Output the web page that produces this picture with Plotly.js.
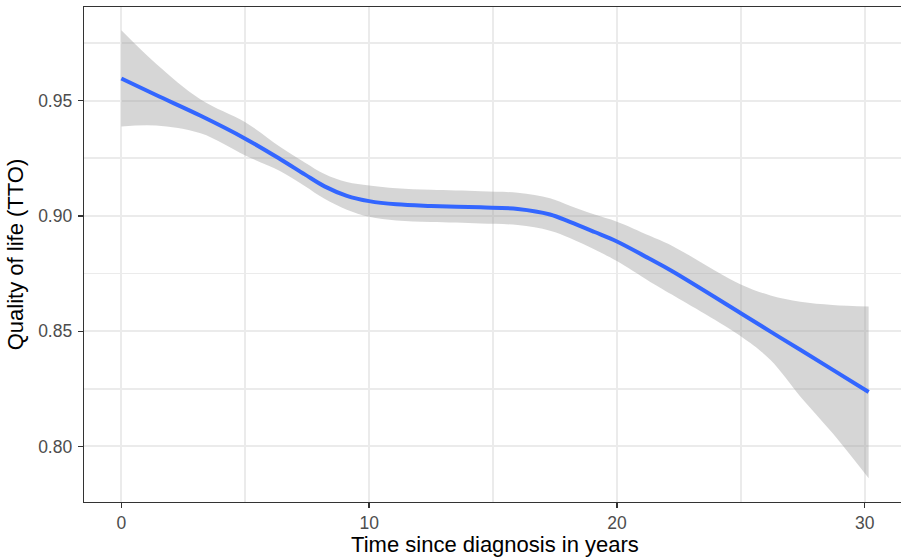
<!DOCTYPE html>
<html>
<head>
<meta charset="utf-8">
<script src="https://cdn.plot.ly/plotly-3.0.1.min.js"></script>
<style>
html, body { margin: 0; padding: 0; overflow: hidden; background: #ffffff; }
#chart { width: 920px; height: 557px; }
</style>
</head>
<body>
<div id="chart"></div>
<script>
// Values
const years    = [0, 1.4, 3.2, 5.0, 6.4, 7.4, 8.2, 9.1, 10, 11.1, 12.5, 14.5, 16.0, 17.3, 18.1, 19.1, 20, 21.3, 22.2, 25, 26.2, 27.4, 28.7, 30.16];
const fitTTO   = [0.9596, 0.9524, 0.9434, 0.9335, 0.9247, 0.9180, 0.9128, 0.9087, 0.9064, 0.9050, 0.9043, 0.9037, 0.9030, 0.9006, 0.8974, 0.8930, 0.8889, 0.8815, 0.8762, 0.8578, 0.8498, 0.8419, 0.8333, 0.8236];
const upperTTO = [0.9805, 0.9660, 0.9505, 0.9406, 0.9300, 0.9232, 0.9182, 0.9147, 0.9132, 0.9120, 0.9113, 0.9107, 0.9100, 0.9076, 0.9044, 0.9006, 0.8975, 0.8915, 0.8872, 0.8702, 0.8655, 0.8628, 0.8614, 0.8607];
const lowerTTO = [0.9388, 0.9392, 0.9358, 0.9262, 0.9195, 0.9130, 0.9074, 0.9027, 0.8996, 0.8980, 0.8973, 0.8967, 0.8960, 0.8936, 0.8904, 0.8854, 0.8804, 0.8717, 0.8660, 0.8478, 0.8375, 0.8217, 0.8058, 0.7862];

const xTicks = [0, 10, 20, 30];
const yTicks = [0.80, 0.85, 0.90, 0.95];
const yTickLabels = ["0.80", "0.85", "0.90", "0.95"];

const xTitle = "Time since diagnosis in years";
const yTitle = "Quality of life (TTO)";

const traces = [
  {
    x: years, y: upperTTO, type: "scatter", mode: "lines",
    line: { width: 0, shape: "spline", smoothing: 1 },
    hoverinfo: "skip", showlegend: false
  },
  {
    x: years, y: lowerTTO, type: "scatter", mode: "lines",
    line: { width: 0, shape: "spline", smoothing: 1 },
    fill: "tonexty", fillcolor: "rgba(153,153,153,0.4)",
    hoverinfo: "skip", showlegend: false
  },
  {
    x: years, y: fitTTO, type: "scatter", mode: "lines",
    line: { color: "#3366FF", width: 4, shape: "spline", smoothing: 1 },
    showlegend: false
  }
];

const axisCommon = {
  showline: true, mirror: true, linecolor: "#333333", linewidth: 1.3,
  ticks: "outside", ticklen: 5, tickwidth: 1.3, tickcolor: "#333333",
  gridcolor: "#EBEBEB", gridwidth: 2, zeroline: false,
  tickfont: { family: "Liberation Sans, Arial, sans-serif", size: 17.5, color: "#4D4D4D" }
};

const layout = {
  width: 920, height: 557,
  margin: { l: 84, r: 14, t: 7, b: 55 },
  paper_bgcolor: "#ffffff", plot_bgcolor: "#ffffff",
  font: { family: "Liberation Sans, Arial, sans-serif" },
  showlegend: false,
  xaxis: Object.assign({}, axisCommon, {
    range: [-1.508, 31.668],
    tickvals: xTicks,
    ticklabelstandoff: 0,
    minor: { dtick: 5, tick0: 0, showgrid: true, gridcolor: "#EBEBEB", gridwidth: 1.6, ticks: "" },
    title: { text: xTitle, font: { size: 22, color: "#000000" }, standoff: 2 }
  }),
  yaxis: Object.assign({}, axisCommon, {
    range: [0.7759, 0.9906],
    tickvals: yTicks, ticktext: yTickLabels,
    ticklabelstandoff: 2,
    minor: { dtick: 0.025, tick0: 0.775, showgrid: true, gridcolor: "#EBEBEB", gridwidth: 1.6, ticks: "" },
    title: { text: yTitle, font: { size: 22, color: "#000000" }, standoff: 8 }
  })
};

Plotly.newPlot("chart", traces, layout, { displayModeBar: false, staticPlot: true });
</script>
</body>
</html>
